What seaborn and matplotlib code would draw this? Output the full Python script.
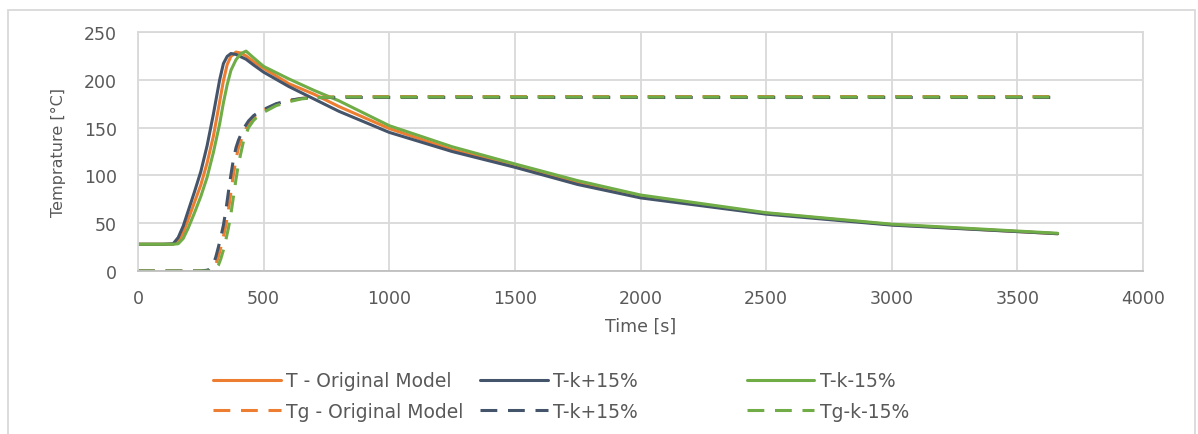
import numpy as np
import pandas as pd
import matplotlib
matplotlib.use("Agg")
import matplotlib.pyplot as plt
from matplotlib.patches import Rectangle
import seaborn as sns

# time axis for the part temperature curves [s]
t_T = [0, 100, 140, 160, 180, 200, 225, 250, 275, 300, 325, 340, 355, 370, 390,
       410, 430, 460, 500, 600, 700, 800, 1000, 1250, 1500, 1750, 2000, 2500, 3000, 3660]
T_orig = [28, 28, 28, 31, 40, 54, 72, 90, 113, 141, 177, 199, 216, 224.5, 229,
          228, 225, 219, 212, 196, 185, 172, 149, 127, 110, 93, 78, 60.5, 48.5, 39]
T_kplus = [28, 28, 28.5, 35, 47, 63, 83, 104, 131, 164, 200, 217, 224.5, 227.5, 226.5,
           224, 221.5, 215.5, 208, 193, 180, 167, 145, 125, 108.5, 90.5, 76.5, 59.5, 48, 39]
T_kminus = [28, 28, 28, 28.5, 34, 45, 61, 78, 98, 124, 154, 176, 195, 210, 221,
            227.5, 230, 223, 214, 201, 189, 178, 152, 130, 112, 94.5, 79.5, 61, 49, 39.5]

# time axis for the Tg curves [s]
t_Tg = [0, 250, 280, 300, 310, 320, 330, 340, 350, 360, 370, 380, 390, 400, 420,
        440, 460, 480, 500, 550, 600, 650, 700, 800, 1000, 2000, 3660]
Tg_orig = [0, 0, 0, 2, 7, 15, 25, 36, 48, 64, 83, 101, 117, 129, 144,
           154, 160, 164.5, 168, 174.5, 178, 180.5, 181.5, 182.3, 182.5, 182.5, 182.5]
Tg_kplus = [0, 0, 1, 7, 15, 25, 36, 48, 64, 83, 101, 117, 129, 137, 149,
            157, 162.5, 166, 169, 175, 178.5, 180.5, 181.3, 181.5, 181.5, 181.5, 181.5]
Tg_kminus = [0, 0, 0, 0.5, 2, 6, 13, 22, 33, 45, 60, 78, 96, 112, 136,
             150, 157.5, 162.5, 166, 173, 177, 180, 181.3, 182, 182, 182, 182]

labels = ["T - Original Model", "T-k+15%", "T-k-15%",
          "Tg - Original Model", "T-k+15%", "Tg-k-15%"]

ORANGE = "#ED7D31"
NAVY = "#44546A"
GREEN = "#70AD47"
GRID = "#D9D9D9"
TEXT = "#595959"

sns.set_theme(style="whitegrid")
plt.rcParams["font.family"] = ["DejaVu Sans"]

fig = plt.figure(figsize=(11.98, 4.35), dpi=100)
ax = fig.add_axes([138 / 1198, 1 - 272 / 435, (1143 - 138) / 1198, (272 - 33) / 435])

dash = (0, (5.5, 3.5))
series = [
    (t_T, T_orig, ORANGE, "-"),
    (t_T, T_kplus, NAVY, "-"),
    (t_T, T_kminus, GREEN, "-"),
    (t_Tg, Tg_orig, ORANGE, dash),
    (t_Tg, Tg_kplus, NAVY, dash),
    (t_Tg, Tg_kminus, GREEN, dash),
]
for t, v, c, ls in series:
    df = pd.DataFrame({"t": t, "v": v})
    sns.lineplot(data=df, x="t", y="v", ax=ax, color=c, linewidth=2.2,
                 linestyle=ls, estimator=None, legend=False)

ax.set_xlim(0, 4000)
ax.set_ylim(0, 250)
ax.set_xticks(np.arange(0, 4001, 500))
ax.set_yticks(np.arange(0, 251, 50))
ax.grid(True, color=GRID, linewidth=1.3)
for s in ax.spines.values():
    s.set_visible(True)
    s.set_color(GRID)
    s.set_linewidth(1.3)
ax.spines["bottom"].set_color("#BFBFBF")
ax.tick_params(axis="both", length=0, labelsize=12.5, colors=TEXT)
ax.tick_params(axis="y", pad=15)
ax.tick_params(axis="x", pad=13)

ax.set_xlabel("Time [s]", fontsize=12.5, color=TEXT)
ax.set_ylabel("Temprature [°C]", fontsize=11.5, color=TEXT)
ax.xaxis.set_label_coords(0.5, (272 - 327) / 239)
ax.xaxis.label.set_va("center")
ax.yaxis.set_label_coords((58.5 - 138) / 1005, 0.5)
ax.yaxis.label.set_va("center")

lines = ax.get_lines()
col_x = [213, 480, 747]
for i, x0 in enumerate(col_x):
    leg = fig.legend([lines[i], lines[i + 3]], [labels[i], labels[i + 3]],
                     loc="center left", bbox_to_anchor=(x0 / 1198, 1 - 397 / 435),
                     frameon=False, fontsize=13.5, handlelength=3.6,
                     handletextpad=0.3, labelspacing=0.6, borderpad=0,
                     borderaxespad=0)
    for txt in leg.get_texts():
        txt.set_color(TEXT)

fig.add_artist(Rectangle((8 / 1198, -0.1), (1195 - 8) / 1198, 1.1 - 11 / 435,
                         transform=fig.transFigure, fill=False,
                         edgecolor=GRID, linewidth=1.3))

fig.savefig("out.png", dpi=100, facecolor="white")
